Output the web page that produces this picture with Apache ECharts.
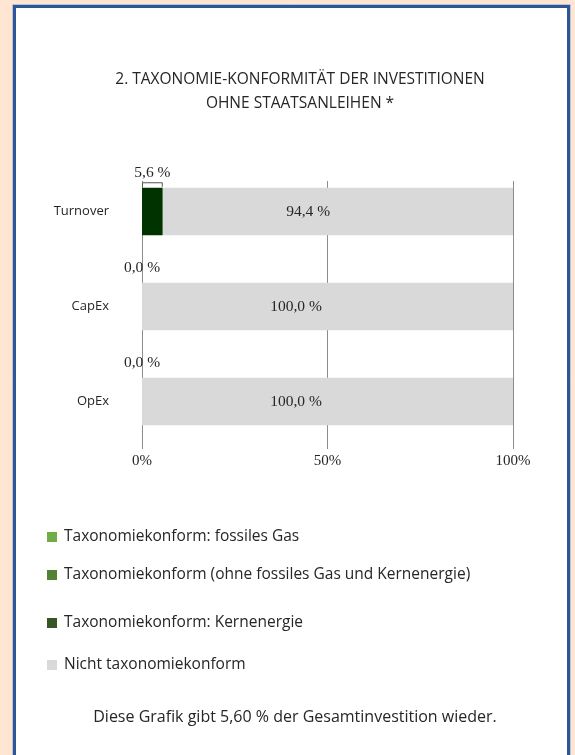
<!DOCTYPE html>
<html><head><meta charset="utf-8">
<script src="https://cdn.jsdelivr.net/npm/echarts@6/dist/echarts.min.js"></script>
<style>html,body{margin:0;padding:0;background:#FEE6D3;}#c{width:575px;height:755px;}</style>
</head><body><div id="c"></div>
<script>
const categories = ['Turnover', 'CapEx', 'OpEx'];
const fossilGas = [0, 0, 0];
const alignedOther = [5.6, 0, 0];
const nuclear = [0, 0, 0];
const notAligned = [94.4, 100, 100];
const xTicks = [0, 50, 100];
const legendNames = [
  'Taxonomiekonform: fossiles Gas',
  'Taxonomiekonform (ohne fossiles Gas und Kernenergie)',
  'Taxonomiekonform: Kernenergie',
  'Nicht taxonomiekonform'
];
const legendColors = ['#70AD47', '#548235', '#375623', '#D9D9D9'];
const titleLines = ['2. TAXONOMIE-KONFORMITÄT DER INVESTITIONEN', 'OHNE STAATSANLEIHEN *'];
const footer = 'Diese Grafik gibt 5,60 % der Gesamtinvestition wieder.';

const fmt = v => v.toFixed(1).replace('.', ',') + ' %';
const sans = '"Open Sans", "Noto Sans", sans-serif';
const serif = '"Liberation Serif", "DejaVu Serif", serif';

const chart = echarts.init(document.getElementById('c'), null, {renderer: 'canvas'});
const legendTops = [524, 562, 610, 652];

chart.setOption({
  backgroundColor: '#FEE6D3',
  animation: false,
  graphic: [
    {type: 'rect', z: -10, shape: {x: 14.5, y: 6.5, width: 554, height: 800},
     style: {fill: '#ffffff', stroke: '#2F5597', lineWidth: 3}},
    {type: 'rect', z: -9, shape: {x: 12.5, y: 4.5, width: 558, height: 800},
     style: {fill: null, stroke: '#B7C3DA', lineWidth: 1}},
    {type: 'text', x: 300, y: 72, style: {text: titleLines[0], font: '15.5px ' + sans, fill: '#262626', align: 'center'}},
    {type: 'text', x: 300, y: 96, style: {text: titleLines[1], font: '15.5px ' + sans, fill: '#262626', align: 'center'}},
    {type: 'text', x: 295, y: 709, style: {text: footer, font: '16px ' + sans, fill: '#262626', align: 'center'}}
  ],
  legend: legendNames.map((n, i) => ({
    data: [{name: n, itemStyle: {color: legendColors[i]}}],
    left: 42, top: legendTops[i], icon: 'rect', itemWidth: 10, itemHeight: 10,
    selectedMode: false,
    textStyle: {fontFamily: sans, fontSize: 15.5, color: '#262626', padding: [0, 0, 0, 2]}
  })),
  grid: [
    {left: 142, right: 62, top: 164, height: 285},
    {left: 142, right: 62, top: 181, height: 268}
  ],
  xAxis: [
    {gridIndex: 0, type: 'value', min: 0, max: 100, show: false},
    {gridIndex: 1, type: 'value', min: 0, max: 100, interval: 50,
     axisLine: {show: false}, axisTick: {show: false},
     splitLine: {show: true, lineStyle: {color: '#8C8C8C', width: 1}},
     axisLabel: {formatter: v => v + '%', fontFamily: serif, fontSize: 15, color: '#262626', margin: 5}}
  ],
  yAxis: [
    {gridIndex: 0, type: 'category', data: categories, inverse: true,
     axisLine: {show: false}, axisTick: {show: false},
     axisLabel: {fontFamily: sans, fontSize: 13, color: '#262626', margin: 33}},
    {gridIndex: 1, type: 'category', data: categories, show: false}
  ],
  series: [
    {name: legendNames[0], type: 'bar', stack: 's', data: fossilGas, barCategoryGap: '50%',
     itemStyle: {color: legendColors[0]}},
    {name: legendNames[1], type: 'bar', stack: 's', data: alignedOther, barCategoryGap: '50%',
     itemStyle: {color: '#003300'},
     label: {show: true, position: 'top', distance: 7, formatter: p => fmt(p.value),
       fontFamily: serif, fontSize: 15.5, color: '#262626'}},
    {name: legendNames[2], type: 'bar', stack: 's', data: nuclear, barCategoryGap: '50%',
     itemStyle: {color: legendColors[2]}},
    {name: legendNames[3], type: 'bar', stack: 's', data: notAligned, barCategoryGap: '50%',
     itemStyle: {color: legendColors[3]},
     label: {show: true, position: ['41.5%', '50%'], align: 'center', verticalAlign: 'middle',
       formatter: p => fmt(p.value), fontFamily: serif, fontSize: 15.5, color: '#262626'}},
    {type: 'custom', name: 'bracket', xAxisIndex: 0, yAxisIndex: 0,
     data: alignedOther.map((v, i) => [v, i]).filter(d => d[0] > 0),
     renderItem: (params, api) => {
       const p0 = api.coord([0, api.value(1)]);
       const p1 = api.coord([api.value(0), api.value(1)]);
       const half = api.size([0, 1])[1] * 0.25;
       const y = p0[1] - half - 5;
       const x0 = p0[0] + 0.5, x1 = p1[0] - 0.5;
       return {type: 'polyline', shape: {points: [[x0, y + 4], [x0, y], [x1, y], [x1, y + 4]]},
         style: {stroke: '#555', lineWidth: 1, fill: null}};
     }}
  ]
});
</script></body></html>
